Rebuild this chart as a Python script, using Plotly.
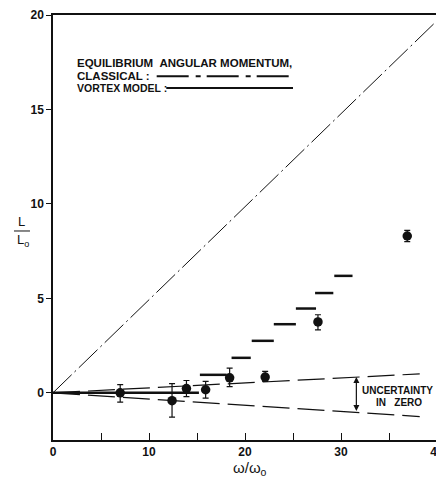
import plotly.graph_objects as go

# ---- data ----
omega = [7.0, 12.4, 13.9, 15.9, 18.4, 22.1, 27.6, 36.9]
L_meas = [0.0, -0.42, 0.22, 0.16, 0.79, 0.83, 3.75, 8.3]
err_plus = [0.43, 0.9, 0.43, 0.44, 0.52, 0.3, 0.38, 0.3]
err_minus = [0.5, 0.87, 0.42, 0.44, 0.46, 0.23, 0.42, 0.3]

# vortex model steps: start, end, level
step_x0 = [0.0, 15.3, 18.6, 20.7, 23.0, 25.3, 27.3, 29.3]
step_x1 = [15.2, 18.1, 20.6, 23.0, 25.3, 27.4, 29.2, 31.2]
step_y = [0.0, 0.95, 1.85, 2.75, 3.63, 4.46, 5.28, 6.19]

# classical equilibrium angular momentum (straight line)
classical_x = [0.0, 39.8]
classical_y = [0.0, 19.6]

# uncertainty-in-zero envelope
unc_x = [0.0, 38.2]
unc_upper = [0.0, 1.0]
unc_lower = [0.0, -1.26]

x_ticks = [0, 10, 20, 30, 40]
y_ticks = [0, 5, 10, 15, 20]

FONT = "Liberation Sans"
INK = "#111111"

fig = go.Figure()

# classical line
fig.add_trace(go.Scatter(x=classical_x, y=classical_y, mode="lines",
                         line=dict(color=INK, width=1, dash="26px,4px,2px,4px"),
                         hoverinfo="skip"))
# uncertainty envelope
for yy in (unc_upper, unc_lower):
    fig.add_trace(go.Scatter(x=unc_x, y=yy, mode="lines",
                             line=dict(color=INK, width=1.2, dash="27px,8px"),
                             hoverinfo="skip"))
# vortex model steps
for x0, x1, yv in zip(step_x0, step_x1, step_y):
    fig.add_trace(go.Scatter(x=[x0, x1], y=[yv, yv], mode="lines",
                             line=dict(color=INK, width=2.5), hoverinfo="skip"))
# measured points
fig.add_trace(go.Scatter(x=omega, y=L_meas, mode="markers",
                         marker=dict(color=INK, size=9.5),
                         error_y=dict(type="data", array=err_plus, arrayminus=err_minus,
                                      color=INK, thickness=1.2, width=3)))

TXT = dict(family=FONT, size=11.5, color=INK, weight="bold")
TXT3 = dict(family=FONT, size=10.5, color=INK, weight="bold")

# legend block (text + sample lines)
fig.add_annotation(x=2.3, y=17.44, xref="x", yref="y", xanchor="left", yanchor="middle",
                   text="EQUILIBRIUM&nbsp;&nbsp;ANGULAR MOMENTUM,", showarrow=False, font=TXT)
fig.add_annotation(x=2.3, y=16.77, xref="x", yref="y", xanchor="left", yanchor="middle",
                   text="CLASSICAL :", showarrow=False, font=TXT)
fig.add_annotation(x=2.3, y=16.12, xref="x", yref="y", xanchor="left", yanchor="middle",
                   text="VORTEX MODEL :", showarrow=False, font=TXT3)
fig.add_shape(type="line", x0=10.8, x1=25.0, y0=16.76, y1=16.76, xref="x", yref="y",
              line=dict(color=INK, width=2, dash="32px,7px,5px,6px"))
fig.add_shape(type="line", x0=11.8, x1=25.0, y0=16.13, y1=16.13, xref="x", yref="y",
              line=dict(color=INK, width=2))

# uncertainty arrow and label
fig.add_annotation(x=31.6, y=0.83, ax=31.6, ay=-1.04, xref="x", yref="y",
                   axref="x", ayref="y", text="", showarrow=True,
                   arrowhead=2, arrowside="end+start", arrowsize=1, arrowwidth=1.2,
                   arrowcolor=INK, standoff=0, startstandoff=0)
UNC = dict(family=FONT, size=10, color=INK, weight="bold")
fig.add_annotation(x=35.9, y=0.12, xref="x", yref="y", xanchor="center", yanchor="middle",
                   text="UNCERTAINTY", showarrow=False, font=UNC)
fig.add_annotation(x=36.0, y=-0.53, xref="x", yref="y", xanchor="center", yanchor="middle",
                   text="IN&nbsp;&nbsp;&nbsp;ZERO", showarrow=False, font=UNC)

# axis titles
fig.add_annotation(x=-0.081, y=0.513, xref="paper", yref="paper", xanchor="center",
                   yanchor="middle", text="L", showarrow=False,
                   font=dict(family=FONT, size=13, color=INK))
fig.add_shape(type="line", x0=-0.1016, x1=-0.0599, y0=0.4918, y1=0.4918,
              xref="paper", yref="paper", line=dict(color=INK, width=1))
fig.add_annotation(x=-0.079, y=0.469, xref="paper", yref="paper", xanchor="center",
                   yanchor="middle", text="L<sub>o</sub>", showarrow=False,
                   font=dict(family=FONT, size=13, color=INK))
fig.add_annotation(x=0.513, y=-0.068, xref="paper", yref="paper", xanchor="center",
                   yanchor="middle", text="ω/ω<sub>o</sub>", showarrow=False,
                   font=dict(family=FONT, size=15, color=INK))

TICKF = dict(family=FONT, size=12, color=INK, weight="bold")

# page body has an 8px margin: size the figure so the plot area lands where the reference has it
fig.update_layout(
    width=436, height=470,
    margin=dict(l=45, r=7, t=7, b=38),
    paper_bgcolor="white", plot_bgcolor="white",
    showlegend=False,
    font=dict(family=FONT, color=INK),
    xaxis=dict(range=[0, 40], tickvals=x_ticks, ticktext=[str(v) for v in x_ticks],
               ticks="inside", ticklen=7, tickwidth=1, tickcolor=INK,
               minor=dict(ticks="inside", ticklen=7, tickwidth=1, tickcolor=INK, dtick=5, tick0=0),
               showgrid=False, zeroline=False, showline=True, linecolor=INK,
               linewidth=1.5, mirror=True, tickfont=TICKF, automargin=False),
    yaxis=dict(range=[-2.5, 20], tickvals=y_ticks, ticktext=[str(v) for v in y_ticks],
               ticks="outside", ticklen=5, tickwidth=1, tickcolor=INK,
               showgrid=False, zeroline=False, showline=True, linecolor=INK,
               linewidth=1.5, mirror=True, tickfont=TICKF, automargin=False),
)

fig.write_html("out.html")
